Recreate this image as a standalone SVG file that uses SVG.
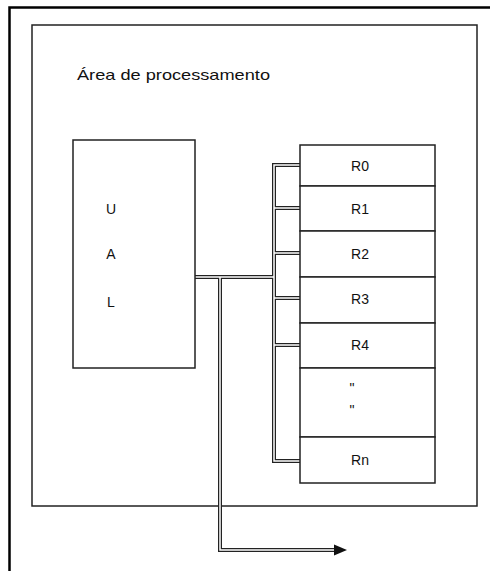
<svg xmlns="http://www.w3.org/2000/svg" width="490" height="571" viewBox="0 0 490 571">
  <style>
    .box { fill: #fff; stroke: #222; stroke-width: 1.5; }
    .lbl { font-family: "Liberation Sans", Arial, sans-serif; font-size: 14px; fill: #111; text-anchor: middle; }
    .busOuter { fill: none; stroke: #222; stroke-width: 4; stroke-linejoin: miter; }
    .busInner { fill: none; stroke: #fff; stroke-width: 1.5; stroke-linejoin: miter; }
  </style>
  <rect x="0" y="0" width="490" height="571" fill="#fff"/>
  <g id="frame">
    <path d="M9.5,571 V7.5 H490" fill="none" stroke="#000" stroke-width="2.5"/>
  </g>
  <g id="processing-area">
    <rect class="box" x="32" y="25" width="445" height="481"/>
    <text x="77" y="80" font-family="Liberation Sans, Arial, sans-serif" font-size="15" fill="#111" textLength="193" lengthAdjust="spacingAndGlyphs">Área de processamento</text>
  </g>
  <g id="connectors">
    <path class="busOuter" d="M195,277 H274 M300,165 H274 V461 H300 M274,208 H300 M274,253 H300 M274,298 H300 M274,345 H300 M220,277 V550 H336"/>
    <path class="busInner" d="M195,277 H274 M300,165 H274 V461 H300 M274,208 H300 M274,253 H300 M274,298 H300 M274,345 H300 M220,277 V550 H336"/>
    <polygon points="334,544.5 347,550 334,555.5" fill="#111"/>
  </g>
  <g id="ual">
    <rect class="box" x="73" y="140" width="122" height="228"/>
    <text class="lbl" x="111" y="214">U</text>
    <text class="lbl" x="111" y="259">A</text>
    <text class="lbl" x="111" y="307">L</text>
  </g>
  <g id="r0"><rect class="box" x="300" y="145" width="135" height="41"/><text class="lbl" x="360" y="171">R0</text></g>
  <g id="r1"><rect class="box" x="300" y="186" width="135" height="45"/><text class="lbl" x="360" y="214">R1</text></g>
  <g id="r2"><rect class="box" x="300" y="231" width="135" height="46"/><text class="lbl" x="360" y="259">R2</text></g>
  <g id="r3"><rect class="box" x="300" y="277" width="135" height="46"/><text class="lbl" x="360" y="304">R3</text></g>
  <g id="r4"><rect class="box" x="300" y="323" width="135" height="45"/><text class="lbl" x="360" y="350">R4</text></g>
  <g id="rdots"><rect class="box" x="300" y="368" width="135" height="69"/>
    <text class="lbl" x="352" y="393" font-size="10">"</text>
    <text class="lbl" x="352" y="415" font-size="10">"</text>
  </g>
  <g id="rn"><rect class="box" x="300" y="437" width="135" height="46"/><text class="lbl" x="360" y="465">Rn</text></g>
</svg>
